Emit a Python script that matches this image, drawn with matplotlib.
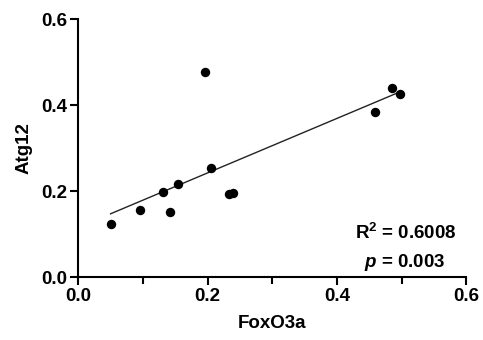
import matplotlib
matplotlib.use("Agg")
import matplotlib.pyplot as plt
import numpy as np
from matplotlib.ticker import MultipleLocator, FormatStrFormatter

plt.rcParams["font.family"] = ["Liberation Sans", "DejaVu Sans"]
plt.rcParams["font.weight"] = "bold"
plt.rcParams["mathtext.fontset"] = "custom"
plt.rcParams["mathtext.rm"] = "Liberation Sans:bold"
plt.rcParams["mathtext.it"] = "Liberation Sans:italic:bold"
plt.rcParams["mathtext.bf"] = "Liberation Sans:bold"

FOXO3A = [0.050, 0.095, 0.131, 0.142, 0.154, 0.196, 0.205, 0.233, 0.239, 0.459, 0.485, 0.497]
ATG12 = [0.124, 0.157, 0.198, 0.152, 0.216, 0.476, 0.254, 0.194, 0.195, 0.383, 0.440, 0.426]
R2_TEXT = "0.6008"
P_TEXT = "0.003"

x = np.array(FOXO3A)
y = np.array(ATG12)
slope, intercept = np.polyfit(x, y, 1)
xfit = np.array([x.min(), x.max()])

fig = plt.figure(figsize=(4.83, 3.4), dpi=100)
ax = fig.add_axes([0.162, 0.185, 0.8035, 0.759])

ax.plot(xfit, slope * xfit + intercept, color="#222222", linewidth=1.0, zorder=2)
ax.scatter(x, y, s=46, color="black", zorder=3, linewidths=0)

ax.set_xlim(0, 0.6)
ax.set_ylim(0, 0.6)
ax.xaxis.set_major_locator(MultipleLocator(0.2))
ax.xaxis.set_minor_locator(MultipleLocator(0.1))
ax.yaxis.set_major_locator(MultipleLocator(0.2))
ax.xaxis.set_major_formatter(FormatStrFormatter("%.1f"))
ax.yaxis.set_major_formatter(FormatStrFormatter("%.1f"))

for side in ["top", "right"]:
    ax.spines[side].set_visible(False)
for side in ["left", "bottom"]:
    ax.spines[side].set_linewidth(1.5)

ax.tick_params(which="major", length=6, width=1.5, labelsize=13.5, pad=2)
ax.tick_params(which="minor", length=5, width=1.5)

ax.set_xlabel("FoxO3a", fontsize=13.5, fontweight="bold", labelpad=7)
ax.set_ylabel("Atg12", fontsize=13.5, fontweight="bold", labelpad=6)

ax.text(0.975, 0.172, f"R$^\\mathrm{{2}}$ = {R2_TEXT}", transform=ax.transAxes,
        ha="right", va="center", fontsize=13.5, fontweight="bold")
ax.text(0.945, 0.055, f"$p$ = {P_TEXT}", transform=ax.transAxes,
        ha="right", va="center", fontsize=13.5, fontweight="bold")

fig.savefig("out.png", dpi=100)
